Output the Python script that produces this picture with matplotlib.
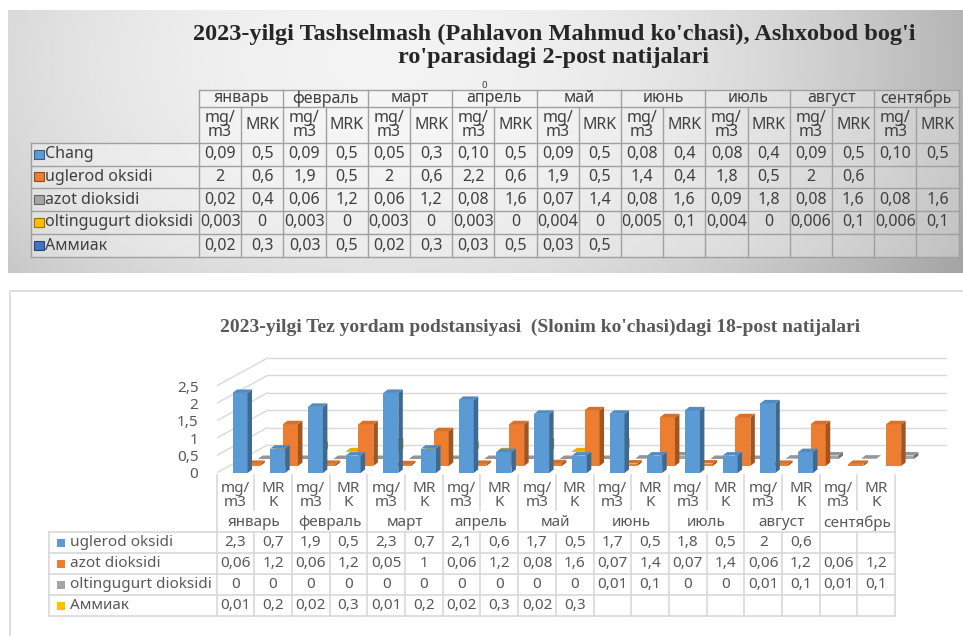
import numpy as np
import matplotlib
matplotlib.use('Agg')
import matplotlib.pyplot as plt
from matplotlib.patches import Polygon, Rectangle

# ---------------- data ----------------
months = ['январь', 'февраль', 'март', 'апрель', 'май', 'июнь', 'июль', 'август', 'сентябрь']
units_top = ['mg/\nm3', 'MRK']
units_bottom = ['mg/\nm3', 'MR\nK']

top_title_1 = "2023-yilgi Tashselmash (Pahlavon Mahmud ko'chasi), Ashxobod bog'i"
top_title_2 = "ro'parasidagi 2-post natijalari"
top_rows = ['Chang', 'uglerod oksidi', 'azot dioksidi', 'oltingugurt dioksidi', 'Аммиак']
top_colors = ['#5B9BD5', '#ED7D31', '#A5A5A5', '#FFC000', '#4472C4']
top_chang = [0.09, 0.5, 0.09, 0.5, 0.05, 0.3, 0.10, 0.5, 0.09, 0.5, 0.08, 0.4, 0.08, 0.4, 0.09, 0.5, 0.10, 0.5]
top_uglerod = [2, 0.6, 1.9, 0.5, 2, 0.6, 2.2, 0.6, 1.9, 0.5, 1.4, 0.4, 1.8, 0.5, 2, 0.6, None, None]
top_azot = [0.02, 0.4, 0.06, 1.2, 0.06, 1.2, 0.08, 1.6, 0.07, 1.4, 0.08, 1.6, 0.09, 1.8, 0.08, 1.6, 0.08, 1.6]
top_olt = [0.003, 0, 0.003, 0, 0.003, 0, 0.003, 0, 0.004, 0, 0.005, 0.1, 0.004, 0, 0.006, 0.1, 0.006, 0.1]
top_amm = [0.02, 0.3, 0.03, 0.5, 0.02, 0.3, 0.03, 0.5, 0.03, 0.5, None, None, None, None, None, None, None, None]

bottom_title = "2023-yilgi Tez yordam podstansiyasi  (Slonim ko'chasi)dagi 18-post natijalari"
series_names = ['uglerod oksidi', 'azot dioksidi', 'oltingugurt dioksidi', 'Аммиак']
series_colors = ['#5B9BD5', '#ED7D31', '#A5A5A5', '#FFC000']
uglerod = [2.3, 0.7, 1.9, 0.5, 2.3, 0.7, 2.1, 0.6, 1.7, 0.5, 1.7, 0.5, 1.8, 0.5, 2, 0.6, None, None]
azot = [0.06, 1.2, 0.06, 1.2, 0.05, 1, 0.06, 1.2, 0.08, 1.6, 0.07, 1.4, 0.07, 1.4, 0.06, 1.2, 0.06, 1.2]
olt = [0, 0, 0, 0, 0, 0, 0, 0, 0, 0, 0.01, 0.1, 0, 0, 0.01, 0.1, 0.01, 0.1]
amm = [0.01, 0.2, 0.02, 0.3, 0.01, 0.2, 0.02, 0.3, 0.02, 0.3, None, None, None, None, None, None, None, None]
yticks = [0, 0.5, 1, 1.5, 2, 2.5]


def fmt(v, two=False):
    if v is None:
        return ''
    s = f"{v:.2f}" if two else f"{v:g}"
    return s.replace('.', ',')


def shade(c, f):
    c = np.array(matplotlib.colors.to_rgb(c))
    return tuple(np.clip(c * f, 0, 1))


plt.rcParams['font.family'] = ['Noto Sans', 'DejaVu Sans']
W, H = 963, 636
fig = plt.figure(figsize=(W / 100, H / 100), dpi=100)

# overlay axes in pixel coordinates
fax = fig.add_axes([0, 0, 1, 1])
fax.set_xlim(0, W)
fax.set_ylim(H, 0)
fax.axis('off')

# ---------------- top panel ----------------
X, Y = np.meshgrid(np.linspace(8, W, 400), np.linspace(10, 273, 120))
g = 0.955 - 0.24 * ((X - 380) / 580) ** 2 - 0.07 * ((Y - 60) / 210) ** 2
g = np.clip(g, 0, 1)
fax.imshow(np.dstack([g, g, g]), extent=(8, W, 273, 10), aspect='auto', zorder=0, interpolation='bilinear')
fax.set_xlim(0, W)
fax.set_ylim(H, 0)

serif = ['Liberation Serif', 'DejaVu Serif']
fax.text(554, 34, top_title_1, ha='center', va='center', fontsize=17.5, fontweight='bold',
         family=serif, color='#262626', zorder=5)
fax.text(553, 57, top_title_2, ha='center', va='center', fontsize=17.5, fontweight='bold',
         family=serif, color='#262626', zorder=5)
fax.text(484, 86, '0', ha='center', va='center', fontsize=7, color='#404040', zorder=5)

TL, TCW = 199, 42.2
TR = TL + 18 * TCW
TLAB = 31
t_rows = [143, 166, 188, 211, 234, 257]
tcol = '#A0A0A0'
tcolor = '#3F3F3F'
TFS = 11.5
# cell fill
fax.add_patch(Rectangle((TL, 90), TR - TL, 143 - 90, facecolor='white', alpha=0.3, lw=0, zorder=1))
fax.add_patch(Rectangle((TLAB, 143), TR - TLAB, 257 - 143, facecolor='white', alpha=0.3, lw=0, zorder=1))
for yy in [90, 107]:
    fax.plot([TL, TR], [yy, yy], color=tcol, lw=1, zorder=2)
for yy in t_rows:
    fax.plot([TLAB, TR], [yy, yy], color=tcol, lw=1, zorder=2)
fax.plot([TLAB, TLAB], [143, 257], color=tcol, lw=1, zorder=2)
for i in range(19):
    x = TL + i * TCW
    fax.plot([x, x], [90 if i % 2 == 0 else 107, 257], color=tcol, lw=1, zorder=2)
for m, name in enumerate(months):
    fax.text(TL + (2 * m + 1) * TCW, 98.5, name, ha='center', va='center', fontsize=TFS, color=tcolor, zorder=5)
    for u in range(2):
        fax.text(TL + (2 * m + u + 0.5) * TCW, 125, units_top[u], ha='center', va='center',
                 fontsize=TFS, color=tcolor, linespacing=0.9, zorder=5)
top_data = [top_chang, top_uglerod, top_azot, top_olt, top_amm]
for r, (name, vals) in enumerate(zip(top_rows, top_data)):
    yc = (t_rows[r] + t_rows[r + 1]) / 2
    fax.add_patch(Rectangle((33.5, yc - 5), 10, 9, facecolor=top_colors[r],
                            edgecolor=shade(top_colors[r], 0.6), lw=0.8, zorder=4))
    fax.text(45, yc, name, ha='left', va='center', fontsize=TFS, color=tcolor, zorder=5)
    for c, v in enumerate(vals):
        fax.text(TL + (c + 0.5) * TCW, yc, fmt(v, two=(r == 0 and c % 2 == 0)), ha='center',
                 va='center', fontsize=TFS, color=tcolor, zorder=5)

# ---------------- bottom panel ----------------
fax.plot([10, 10, W], [H, 291, 291], color='#D9D9D9', lw=1.2, zorder=1)
fax.text(540, 327, bottom_title, ha='center', va='center', fontsize=14, fontweight='bold',
         family=serif, color='#595959', zorder=5)

X0, Y0 = 216.5, 473
PX_CAT, PX_VAL = 37.7, 34.8
YTOP = 335
ax = fig.add_axes([X0 / W, 1 - Y0 / H, (W - X0) / W, (Y0 - YTOP) / H])
ax.set_xlim(0, (W - X0) / PX_CAT)
ax.set_ylim(0, (Y0 - YTOP) / PX_VAL)
ax.patch.set_alpha(0)
for s in ax.spines.values():
    s.set_visible(False)
ax.set_xticks([])
ax.set_yticks(yticks, labels=[fmt(v) for v in yticks])
ax.tick_params(axis='y', length=0, pad=13, labelsize=11, labelcolor='#595959')

DX, DY = 12.75 / PX_CAT, 7.0 / PX_VAL
NROW = 4
OFF, BW = 16 / PX_CAT, 15 / PX_CAT
BDX, BDY = 4.5 / PX_CAT, 3.5 / PX_VAL
ncat = len(uglerod)

for v in yticks:
    ax.plot([0, NROW * DX], [v, v + NROW * DY], color='#D9D9D9', lw=1, zorder=1)
    ax.plot([NROW * DX, ncat + NROW * DX], [v + NROW * DY] * 2, color='#D9D9D9', lw=1, zorder=1)

series = [uglerod, azot, olt, amm]
for d in range(NROW - 1, -1, -1):
    vals = series[d]
    col = series_colors[d]
    idx = [i for i, v in enumerate(vals) if v is not None]
    xs = np.array([i + OFF + d * DX for i in idx])
    hs = np.array([vals[i] for i in idx])
    base = d * DY
    z = 10 + (NROW - d) * 2
    ax.bar(xs, hs, width=BW, bottom=base, align='edge', color=col, lw=0, zorder=z)
    for x, h in zip(xs, hs):
        side = [(x + BW, base), (x + BW + BDX, base + BDY), (x + BW + BDX, base + h + BDY), (x + BW, base + h)]
        top = [(x, base + h), (x + BDX, base + h + BDY), (x + BW + BDX, base + h + BDY), (x + BW, base + h)]
        ax.add_patch(Polygon(side, closed=True, facecolor=shade(col, 0.68), lw=0, zorder=z))
        ax.add_patch(Polygon(top, closed=True, facecolor=shade(col, 0.9), lw=0, zorder=z + 1))

# bottom data table
bcol = '#D9D9D9'
btc = '#595959'
BFS = 11
BLAB = 49
b_rows = [532, 553, 574, 595, 616]
BR = X0 + ncat * PX_CAT
for yy in b_rows:
    fax.plot([BLAB, BR], [yy, yy], color=bcol, lw=1.2, zorder=2)
fax.plot([BLAB, BLAB], [532, 616], color=bcol, lw=1.2, zorder=2)
for i in range(ncat + 1):
    x = X0 + i * PX_CAT
    if i % 2 == 0:
        fax.plot([x, x], [475, 616], color=bcol, lw=1.2, zorder=2)
    else:
        fax.plot([x, x], [475, 510], color=bcol, lw=1.2, zorder=2)
        fax.plot([x, x], [532, 616], color=bcol, lw=1.2, zorder=2)
for m, name in enumerate(months):
    fax.text(X0 + (2 * m + 1) * PX_CAT, 523, name, ha='center', va='center', fontsize=BFS, color=btc, zorder=5)
    for u in range(2):
        fax.text(X0 + (2 * m + u + 0.5) * PX_CAT, 495.5, units_bottom[u], ha='center', va='center',
                 fontsize=BFS, color=btc, linespacing=0.95, zorder=5)
for r, (name, vals) in enumerate(zip(series_names, series)):
    yc = (b_rows[r] + b_rows[r + 1]) / 2
    fax.add_patch(Rectangle((57, yc - 4), 8, 8, facecolor=series_colors[r], lw=0, zorder=4))
    fax.text(70, yc, name, ha='left', va='center', fontsize=BFS, color=btc, zorder=5)
    for c, v in enumerate(vals):
        fax.text(X0 + (c + 0.5) * PX_CAT, yc, fmt(v), ha='center', va='center',
                 fontsize=BFS, color=btc, zorder=5)

fig.savefig('out.png', dpi=100)
